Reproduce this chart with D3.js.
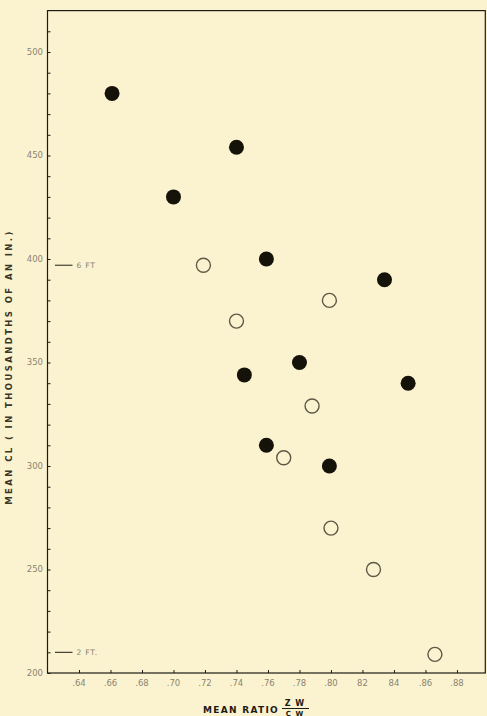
<!DOCTYPE html>
<html>
<head>
<meta charset="utf-8">
<script src="https://cdn.jsdelivr.net/npm/d3@7"></script>
<style>
  body { margin: 0; background: #fbf3d0; }
  svg { display: block; }
  text { font-family: "DejaVu Sans", sans-serif; }
</style>
</head>
<body>
<svg id="chart" width="487" height="716"></svg>
<script>
// filled dots
var filledRatio = [0.661, 0.700, 0.740, 0.759, 0.834, 0.745, 0.780, 0.849, 0.759, 0.799];
var filledCL    = [480, 430, 454, 400, 390, 344, 350, 340, 310, 300];
// open dots
var openRatio = [0.719, 0.740, 0.799, 0.788, 0.770, 0.800, 0.827, 0.866];
var openCL    = [397, 370, 380, 329, 304, 270, 250, 209];

var xTicks = [0.64, 0.66, 0.68, 0.70, 0.72, 0.74, 0.76, 0.78, 0.80, 0.82, 0.84, 0.86, 0.88];
var xTickLabels = [".64", ".66", ".68", ".70", ".72", ".74", ".76", ".78", ".80", "82", "84", ".86", ".88"];
var yTicks = [200, 250, 300, 350, 400, 450, 500];
var yMinor = [210, 220, 230, 240, 260, 270, 280, 290, 310, 320, 330, 340, 360, 370, 380, 390,
              410, 420, 430, 440, 460, 470, 480, 490, 510];
var markLabels = ["6 FT", "2 FT."];
var markValues = [397, 210];

var svg = d3.select("#chart");
var ink = "#1e1b14";
var grey = "#8a8470";

var x = d3.scaleLinear().domain([0.62, 0.898]).range([47.5, 485.3]);
var y = d3.scaleLinear().domain([200, 520]).range([673, 10.6]);

// frame
svg.append("rect")
    .attr("x", x(0.62)).attr("y", y(520))
    .attr("width", x(0.898) - x(0.62)).attr("height", y(200) - y(520))
    .attr("fill", "none").attr("stroke", ink).attr("stroke-width", 1.2);

// y axis (ticks point inward)
var yAxis = d3.axisRight(y).tickValues(yTicks).tickSize(3).tickFormat("");
svg.append("g").attr("transform", "translate(" + x(0.62) + ",0)").call(yAxis)
    .call(function(g) { g.select(".domain").remove(); })
    .selectAll("line").attr("stroke", ink);
svg.append("g").attr("transform", "translate(" + x(0.62) + ",0)")
    .call(d3.axisRight(y).tickValues(yMinor).tickSize(3).tickFormat(""))
    .call(function(g) { g.select(".domain").remove(); })
    .selectAll("line").attr("stroke", ink);
svg.append("g").selectAll("text").data(yTicks).join("text")
    .attr("x", 43).attr("y", function(d) { return y(d); })
    .attr("dy", "0.35em").attr("text-anchor", "end")
    .attr("font-size", 8.5).attr("fill", grey)
    .text(function(d) { return d; });

// x axis
svg.append("g").attr("transform", "translate(0," + y(200) + ")")
    .call(d3.axisTop(x).tickValues(xTicks).tickSize(3).tickFormat(""))
    .call(function(g) { g.select(".domain").remove(); })
    .selectAll("line").attr("stroke", ink);
svg.append("g").selectAll("text").data(xTicks).join("text")
    .attr("x", function(d) { return x(d); }).attr("y", 686)
    .attr("text-anchor", "middle")
    .attr("font-size", 8.5).attr("fill", grey)
    .text(function(d, i) { return xTickLabels[i]; });

// height marks
markValues.forEach(function(v, i) {
  svg.append("line")
      .attr("x1", 55).attr("x2", 72.5).attr("y1", y(v)).attr("y2", y(v))
      .attr("stroke", ink).attr("stroke-width", 1);
  svg.append("text")
      .attr("x", 76.5).attr("y", y(v)).attr("dy", "0.35em")
      .attr("font-size", 7.5).attr("fill", grey).attr("letter-spacing", 0.8)
      .text(markLabels[i]);
});

// points
svg.append("g").selectAll("circle").data(filledRatio).join("circle")
    .attr("cx", function(d) { return x(d); })
    .attr("cy", function(d, i) { return y(filledCL[i]); })
    .attr("r", 7.5).attr("fill", "#151209");
svg.append("g").selectAll("circle").data(openRatio).join("circle")
    .attr("cx", function(d) { return x(d); })
    .attr("cy", function(d, i) { return y(openCL[i]); })
    .attr("r", 7).attr("fill", "none").attr("stroke", "#5e5845").attr("stroke-width", 1.4);

// titles
svg.append("text")
    .attr("transform", "translate(12,367) rotate(-90)")
    .attr("text-anchor", "middle").attr("font-size", 8.5).attr("font-weight", "bold")
    .attr("letter-spacing", 2.4).attr("fill", "#3a3628")
    .text("MEAN CL ( IN THOUSANDTHS OF AN IN.)");

svg.append("text")
    .attr("x", 241).attr("y", 713).attr("text-anchor", "middle")
    .attr("font-size", 9).attr("font-weight", "bold")
    .attr("letter-spacing", 1.3).attr("fill", ink)
    .text("MEAN RATIO");
svg.append("text")
    .attr("x", 295).attr("y", 706).attr("text-anchor", "middle")
    .attr("font-size", 8).attr("font-weight", "bold")
    .attr("letter-spacing", 1).attr("fill", ink)
    .text("Z W");
svg.append("line")
    .attr("x1", 282).attr("x2", 309).attr("y1", 708.5).attr("y2", 708.5)
    .attr("stroke", ink).attr("stroke-width", 1);
svg.append("text")
    .attr("x", 295).attr("y", 715.5).attr("text-anchor", "middle")
    .attr("font-size", 7).attr("font-weight", "bold")
    .attr("letter-spacing", 1).attr("fill", ink)
    .text("C W");
</script>
</body>
</html>
